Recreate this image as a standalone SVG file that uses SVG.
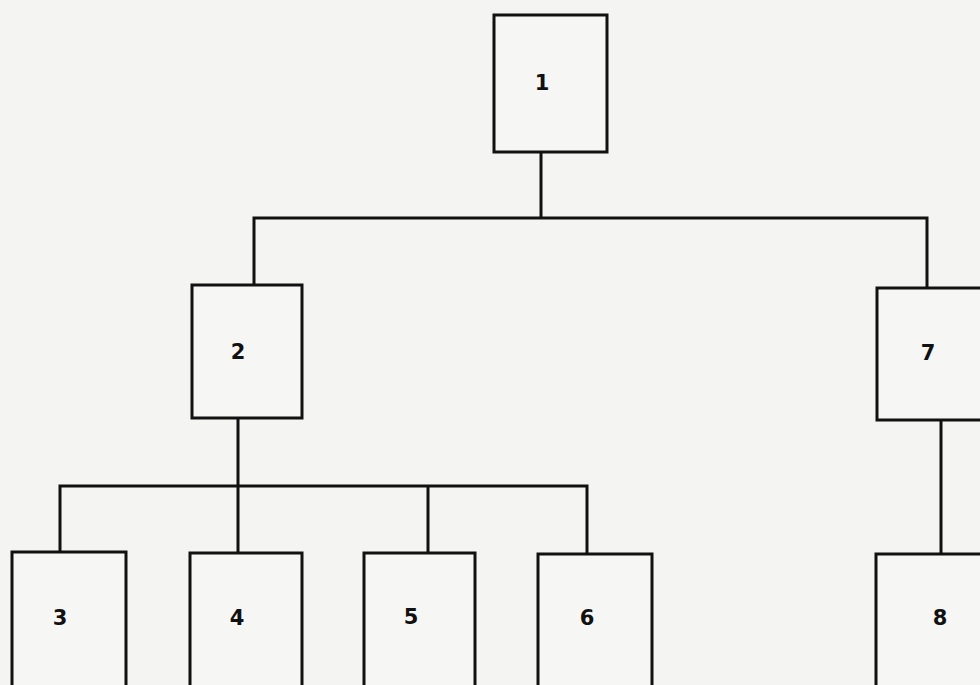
<svg xmlns="http://www.w3.org/2000/svg" width="980" height="685" viewBox="0 0 980 685">
  <style>
    .box { fill: #f6f6f4; stroke: #111; stroke-width: 3; }
    .wire { fill: none; stroke: #111; stroke-width: 3; stroke-linejoin: miter; }
    .lbl { font-family: "DejaVu Sans", sans-serif; font-size: 21px; font-weight: bold; fill: #111; text-anchor: middle; dominant-baseline: central; }
  </style>
  <rect width="980" height="685" fill="#f4f4f2"/>

  <g id="connectors">
    <path class="wire" d="M541 152 V218"/>
    <path class="wire" d="M254 285 V218 H927 V288"/>
    <path class="wire" d="M238 418 V553"/>
    <path class="wire" d="M60 552 V486 H587 V554"/>
    <path class="wire" d="M428 486 V553"/>
    <path class="wire" d="M941 420 V554"/>
  </g>

  <g id="node1"><rect class="box" x="494" y="15" width="113" height="137"/><text class="lbl" x="542" y="83">1</text></g>
  <g id="node2"><rect class="box" x="192" y="285" width="110" height="133"/><text class="lbl" x="238" y="352">2</text></g>
  <g id="node7"><rect class="box" x="877" y="288" width="113" height="132"/><text class="lbl" x="928" y="353">7</text></g>
  <g id="node3"><rect class="box" x="12" y="552" width="114" height="150"/><text class="lbl" x="60" y="618">3</text></g>
  <g id="node4"><rect class="box" x="190" y="553" width="112" height="150"/><text class="lbl" x="237" y="618">4</text></g>
  <g id="node5"><rect class="box" x="364" y="553" width="111" height="150"/><text class="lbl" x="411" y="617">5</text></g>
  <g id="node6"><rect class="box" x="538" y="554" width="114" height="150"/><text class="lbl" x="587" y="618">6</text></g>
  <g id="node8"><rect class="box" x="876" y="554" width="114" height="150"/><text class="lbl" x="940" y="618">8</text></g>
</svg>
